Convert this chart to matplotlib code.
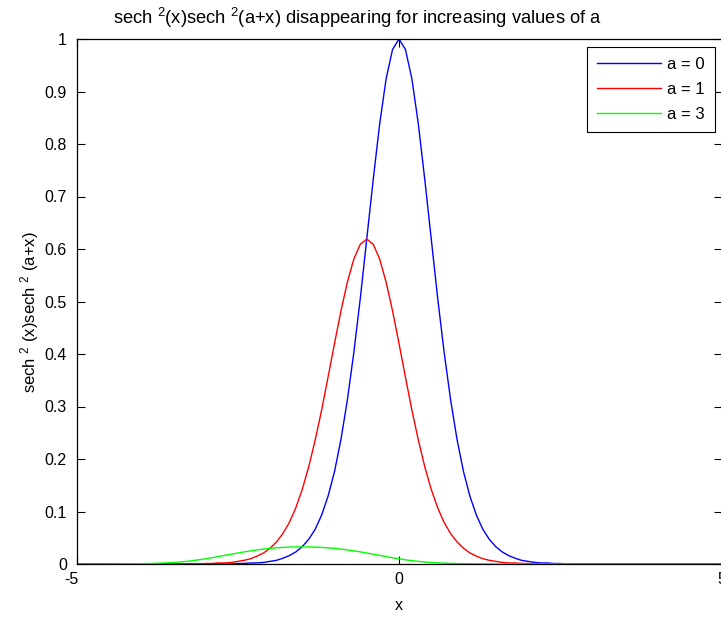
import numpy as np
import matplotlib
matplotlib.use("Agg")
import matplotlib.pyplot as plt
import matplotlib.transforms as mtransforms

plt.rcParams['font.family'] = ['Liberation Sans', 'DejaVu Sans']
plt.rcParams['mathtext.fontset'] = 'custom'
plt.rcParams['mathtext.rm'] = 'Liberation Sans'
plt.rcParams['mathtext.it'] = 'Liberation Sans'
plt.rcParams['mathtext.bf'] = 'Liberation Sans'

# x grid (-5 .. 5, step 0.1)
x = np.round(np.linspace(-5, 5, 101), 1)

# a = 0
y_a0 = [0.0, 0.0, 0.0, 0.0, 0.0, 0.0, 0.0, 0.0, 0.0, 0.0,
        0.0, 0.0, 0.0, 0.0, 0.0, 0.0, 0.0, 0.0, 0.0, 0.0,
        0.0, 0.0, 0.0, 0.0, 0.0,
        0.001, 0.001, 0.002, 0.002, 0.003, 0.005, 0.007, 0.011, 0.016, 0.023,
        0.033, 0.047, 0.066, 0.093, 0.129, 0.176, 0.237, 0.313, 0.403, 0.506,
        0.619, 0.732, 0.838, 0.924, 0.980,
        1.000,
        0.980, 0.924, 0.838, 0.732, 0.619, 0.506, 0.403, 0.313, 0.237, 0.176,
        0.129, 0.093, 0.066, 0.047, 0.033, 0.023, 0.016, 0.011, 0.007, 0.005,
        0.003, 0.002, 0.002, 0.001, 0.001,
        0.0, 0.0, 0.0, 0.0, 0.0, 0.0, 0.0, 0.0, 0.0, 0.0,
        0.0, 0.0, 0.0, 0.0, 0.0, 0.0, 0.0, 0.0, 0.0, 0.0,
        0.0, 0.0, 0.0, 0.0, 0.0]

# a = 1
y_a1 = [0.0, 0.0, 0.0, 0.0, 0.0, 0.0, 0.0, 0.0, 0.0, 0.0,
        0.0, 0.0, 0.0, 0.0, 0.0, 0.0, 0.0, 0.0, 0.0, 0.0,
        0.001, 0.001, 0.002, 0.002, 0.003, 0.005, 0.007, 0.010, 0.015, 0.021,
        0.030, 0.042, 0.058, 0.079, 0.107, 0.142, 0.185, 0.236, 0.293, 0.356,
        0.420, 0.482, 0.537, 0.581, 0.609,
        0.619,
        0.609, 0.581, 0.537, 0.482, 0.420, 0.356, 0.293, 0.236, 0.185, 0.142,
        0.107, 0.079, 0.058, 0.042, 0.030, 0.021, 0.015, 0.010, 0.007, 0.005,
        0.003, 0.002, 0.002, 0.001, 0.001,
        0.0, 0.0, 0.0, 0.0, 0.0, 0.0, 0.0, 0.0, 0.0, 0.0,
        0.0, 0.0, 0.0, 0.0, 0.0, 0.0, 0.0, 0.0, 0.0, 0.0,
        0.0, 0.0, 0.0, 0.0, 0.0, 0.0, 0.0, 0.0, 0.0, 0.0]

# a = 3
y_a3 = [0.0, 0.0, 0.0, 0.0, 0.0,
        0.0001, 0.0001, 0.0002, 0.0003, 0.0005, 0.0006, 0.0009, 0.0011, 0.0016, 0.0021,
        0.0029, 0.0038, 0.0050, 0.0064, 0.0080, 0.0099, 0.0119, 0.0142, 0.0164, 0.0187,
        0.0209, 0.0231, 0.0250, 0.0268, 0.0284, 0.0297, 0.0308, 0.0316, 0.0322, 0.0325,
        0.0327,
        0.0325, 0.0322, 0.0316, 0.0308, 0.0297, 0.0284, 0.0268, 0.0250, 0.0231, 0.0209,
        0.0187, 0.0164, 0.0142, 0.0119, 0.0099, 0.0080, 0.0064, 0.0050, 0.0038, 0.0029,
        0.0021, 0.0016, 0.0011, 0.0009, 0.0006, 0.0005, 0.0003, 0.0002, 0.0001, 0.0001,
        0.0, 0.0, 0.0, 0.0, 0.0, 0.0, 0.0, 0.0, 0.0, 0.0,
        0.0, 0.0, 0.0, 0.0, 0.0, 0.0, 0.0, 0.0, 0.0, 0.0,
        0.0, 0.0, 0.0, 0.0, 0.0, 0.0, 0.0, 0.0, 0.0, 0.0,
        0.0, 0.0, 0.0, 0.0, 0.0]

series_labels = ['a = 0', 'a = 1', 'a = 3']
x_ticks = [-5, 0, 5]
x_tick_labels = ['-5', '0', '5']
y_ticks = [0, 0.1, 0.2, 0.3, 0.4, 0.5, 0.6, 0.7, 0.8, 0.9, 1]
y_tick_labels = ['0', '0.1', '0.2', '0.3', '0.4', '0.5', '0.6', '0.7', '0.8', '0.9', '1']

W, H = 721, 619
fig = plt.figure(figsize=(W / 100, H / 100), dpi=100)
fig.patch.set_facecolor('white')
L, R, T, B = 76.5, 721.5, 39, 564
ax = fig.add_axes([L / W, 1 - B / H, (R - L) / W, (B - T) / H])

ax.plot(x, y_a0, color=(0, 0, 1), lw=1.0, label=series_labels[0])
ax.plot(x, y_a1, color=(1, 0, 0), lw=1.0, label=series_labels[1])
ax.plot(x, y_a3, color=(0, 1, 0), lw=1.0, label=series_labels[2])

ax.set_xlim(-5, 5)
ax.set_ylim(0, 1)
ax.set_xticks(x_ticks)
ax.set_xticklabels(x_tick_labels)
ax.set_yticks(y_ticks)
ax.set_yticklabels(y_tick_labels)
ax.tick_params(direction='in', length=6, width=0.8, top=True, right=True,
               labelsize=11.5, colors='black')
ax.tick_params(axis='y', pad=7)
ax.tick_params(axis='x', pad=6)
for s in ax.spines.values():
    s.set_linewidth(0.9)
    s.set_color('black')

# MATLAB draws the leftmost x label slightly left of the axis
first_lbl = ax.get_xticklabels()[0]
first_lbl.set_transform(first_lbl.get_transform() +
                        mtransforms.ScaledTranslation(-5 / 100, 0, fig.dpi_scale_trans))

ax.set_xlabel('x', fontsize=11.5, labelpad=8)
fig.text(30 / W, 1 - 312 / H, r'sech $^2$ (x)sech $^2$ (a+x)', rotation=90,
         ha='center', va='center', fontsize=12)
fig.text(357 / W, 1 - 18 / H,
         r'sech $^2$(x)sech $^2$(a+x) disappearing for increasing values of a',
         ha='center', va='center', fontsize=13.2)

leg = ax.legend(loc='upper right', bbox_to_anchor=(715 / W, 1 - 47 / H),
                bbox_transform=fig.transFigure, fontsize=12,
                fancybox=False, framealpha=1, edgecolor='black',
                handlelength=3.8, borderpad=0.6, labelspacing=0.6,
                handletextpad=0.4, borderaxespad=0)
leg.get_frame().set_linewidth(0.8)

fig.savefig('out.png', dpi=100)
